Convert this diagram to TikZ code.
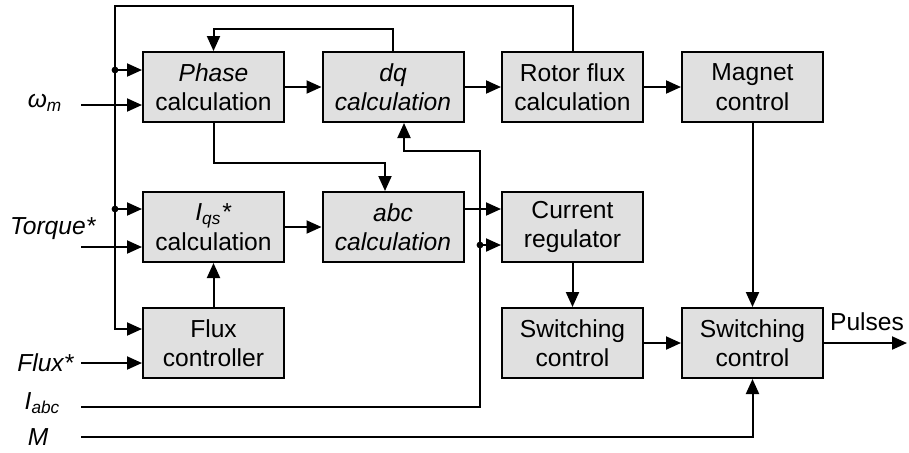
\documentclass[tikz,border=0pt]{standalone}
\usepackage{fontspec}
\setmainfont{Liberation Sans}
\usetikzlibrary{arrows.meta}
\definecolor{boxgray}{HTML}{E0E0E0}
\tikzset{
  blk/.style={draw, fill=boxgray, minimum width=70.5pt, minimum height=35pt, inner sep=0pt, align=center},
  lbl/.style={font=\fontsize{12.3}{14.8}\selectfont\itshape},
}
\begin{document}
\begin{tikzpicture}[x=0.5pt, y=-0.5pt, >={Triangle[length=7.5pt,width=6.5pt]}, line width=1pt, font=\fontsize{12.3}{14.8}\selectfont]
			\useasboundingbox (0,0) rectangle (909,452);
			% blocks
			\node[blk] (Ph) at (213.5,87) {\textit{Phase}\\calculation};
			\node[blk] (DQ) at (393,87) {\textit{dq}\\\textit{calculation}};
			\node[blk] (RF) at (572.5,87) {Rotor flux\\calculation};
			\node[blk] (MC) at (752.5,87) {Magnet\\control};
			\node[blk] (IQ) at (213.5,227) {\textit{I}\textsubscript{\textit{qs}}\textit{*}\\calculation};
			\node[blk] (ABC) at (393,227) {\textit{abc}\\\textit{calculation}};
			\node[blk] (CR) at (572.5,227) {Current\\regulator};
			\node[blk] (FC) at (213.5,343) {Flux\\controller};
			\node[blk] (SC1) at (572.5,343) {Switching\\control};
			\node[blk] (SC2) at (752.5,343) {Switching\\control};
			% inputs
			\node[lbl, anchor=east] (wm) at (70,103) {ω\textsubscript{m}};
			\node[lbl, anchor=east] (tq) at (103,229) {Torque*};
			\node[lbl, anchor=east] (fl) at (81,363) {Flux*};
			\node[lbl, anchor=east] (ia) at (68,403) {I\textsubscript{abc}};
			\node[lbl, anchor=east] (m) at (56,437) {M};
			\node (pl) at (867,322) {Pulses};
			\path
			(81,105)coordinate(wmin)
			(81,247)coordinate(tqin)
			(81,363)coordinate(flin)
			(81,407)coordinate(iin)
			(81,437)coordinate(min)
			(115,6)coordinate(B0)
			(115,70)coordinate(B1)
			(115,209)coordinate(B2)
			(115,329)coordinate(B3)
			(213.5,29)coordinate(T1)
			(385,163)coordinate(T2)
			(480,245)coordinate(I1)
			(480,151)coordinate(I2)
			(404,151)coordinate(I3)
			(907,343)coordinate(pout)
			;
			\draw[->] (wmin)--(Ph.west|-wmin);
			\draw[->] (tqin)--(IQ.west|-tqin);
			\draw[->] (flin)--(FC.west|-flin);
			\draw[->] (RF.north)|-(B0)--(B3)--(FC.west|-B3);
			\draw[->] (B1)--(Ph.west|-B1);
			\draw[->] (B2)--(IQ.west|-B2);
			\draw[->] (Ph)--(DQ);
			\draw[->] (DQ)--(RF);
			\draw[->] (RF)--(MC);
			\draw[->] (IQ)--(ABC);
			\draw[->] (ABC.east|-B2)--(CR.west|-B2);
			\draw[->] (DQ.north)|-(T1)--(Ph.north);
			\draw[->] (Ph.south)|-(T2)--(ABC.north-|T2);
			\draw[->] (FC)--(IQ);
			\draw[->] (iin)-|(I2)--(I3)--(DQ.south-|I3);
			\draw[->] (I1)--(CR.west|-I1);
			\draw[->] (CR)--(SC1);
			\draw[->] (SC1)--(SC2);
			\draw[->] (MC)--(SC2);
			\draw[->] (min)-|(SC2.south);
			\draw[->] (SC2.east)--(pout);
			\foreach \p in {B1,B2,I1} \fill[black](\p) circle(1.7pt);
\end{tikzpicture}
\end{document}
